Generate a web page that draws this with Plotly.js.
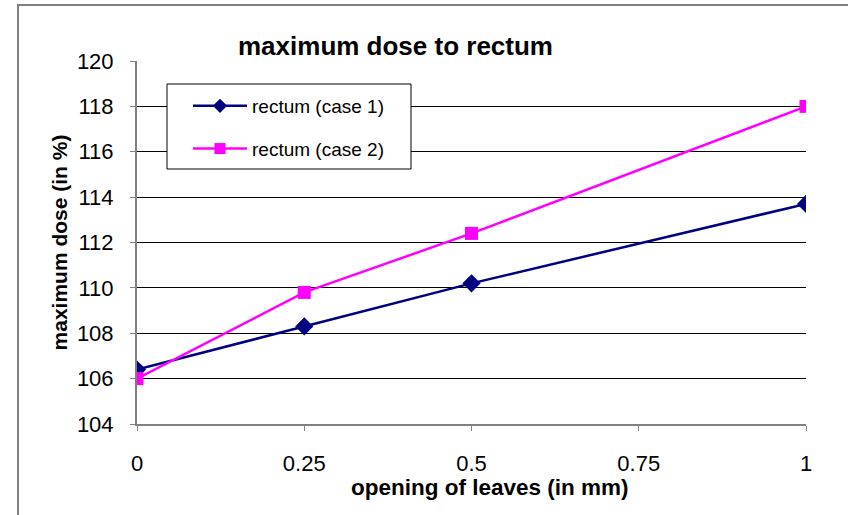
<!DOCTYPE html>
<html>
<head>
<meta charset="utf-8">
<script src="https://cdn.plot.ly/plotly-3.0.1.min.js"></script>
<style>html,body{margin:0;padding:0;background:#fff;}#chart{width:848px;height:515px;}</style>
</head>
<body>
<div id="chart"></div>
<script>
const xValues = [0, 0.25, 0.5, 1];
const case1 = [106.4, 108.3, 110.2, 113.7];
const case2 = [106.0, 109.8, 112.4, 118.0];
const seriesNames = ["rectum (case 1)", "rectum (case 2)"];
const xTicks = [0, 0.25, 0.5, 0.75, 1];
const xTickLabels = ["0", "0.25", "0.5", "0.75", "1"];
const yTicks = [104, 106, 108, 110, 112, 114, 116, 118, 120];

const font = "Liberation Sans, Arial, sans-serif";
const L = 137, R = 806, T = 61, B = 424, W = 848, H = 515;
const px = v => (v - L) / (R - L);
const py = v => (B - v) / (B - T);

const colors = ["#000080", "#FF00FF"];
const symbols = ["diamond", "square"];
const traces = [
  {x: xValues, y: case1, name: seriesNames[0], showlegend: false, mode: "lines+markers",
   line: {color: colors[0], width: 2.5}, marker: {symbol: symbols[0], size: 14, color: colors[0]}},
  {x: xValues, y: case2, name: seriesNames[1], showlegend: false, mode: "lines+markers",
   line: {color: colors[1], width: 2.5}, marker: {symbol: symbols[1], size: 13, color: colors[1]}},
  // legend-only entries (smaller legend symbols, as in the original)
  {x: [null], y: [null], name: seriesNames[0], legendgroup: "a", mode: "lines+markers",
   line: {color: colors[0], width: 2.5}, marker: {symbol: symbols[0], size: 11, color: colors[0]}},
  {x: [null], y: [null], name: seriesNames[1], legendgroup: "b", mode: "lines+markers",
   line: {color: colors[1], width: 2.5}, marker: {symbol: symbols[1], size: 11, color: colors[1]}}
];
const layout = {
  width: W, height: H,
  margin: {l: L, r: W - R, t: T, b: H - B},
  paper_bgcolor: "#fff", plot_bgcolor: "#fff",
  font: {family: font, color: "#000"},
  title: {text: "<b>maximum dose to rectum</b>", font: {size: 26, family: font},
          x: 395.5 / W, xanchor: "center", y: 1 - 46 / H, yanchor: "middle"},
  xaxis: {range: [0, 1], tickvals: xTicks, ticktext: xTickLabels, showgrid: false, zeroline: false,
          showline: true, linecolor: "#808080", linewidth: 2, ticks: "outside", ticklen: 5, tickcolor: "#808080",
          tickfont: {size: 22}, ticklabelstandoff: 14},
  yaxis: {range: [104, 120], tickvals: yTicks, showgrid: true, gridcolor: "#000", gridwidth: 1, zeroline: false,
          showline: true, linecolor: "#808080", linewidth: 2, ticks: "outside", ticklen: 5, tickcolor: "#808080",
          tickfont: {size: 22}, ticklabelstandoff: 12,
          title: {text: "<b>maximum dose (in %)</b>", font: {size: 21}, standoff: 4}},
  showlegend: true,
  legend: {x: px(188), y: py(87), xanchor: "left", yanchor: "top", font: {size: 19},
           borderwidth: 0, bgcolor: "rgba(0,0,0,0)", tracegroupgap: 15, itemwidth: 54},
  annotations: [{text: "<b>opening of leaves (in mm)</b>", xref: "paper", yref: "paper",
                 x: px(490), y: py(487), xanchor: "center", yanchor: "middle", showarrow: false,
                 font: {size: 22.5}}],
  shapes: [
    {type: "rect", xref: "paper", yref: "paper", x0: px(167), x1: px(411), y0: py(169), y1: py(84),
     line: {color: "#000", width: 1}, fillcolor: "#fff", layer: "above"},
    {type: "rect", xref: "paper", yref: "paper", x0: px(18), x1: px(860), y0: py(530), y1: py(5),
     line: {color: "#808080", width: 2}, fillcolor: "rgba(0,0,0,0)"}
  ]
};
Plotly.newPlot("chart", traces, layout, {displayModeBar: false, staticPlot: true});
</script>
</body>
</html>
